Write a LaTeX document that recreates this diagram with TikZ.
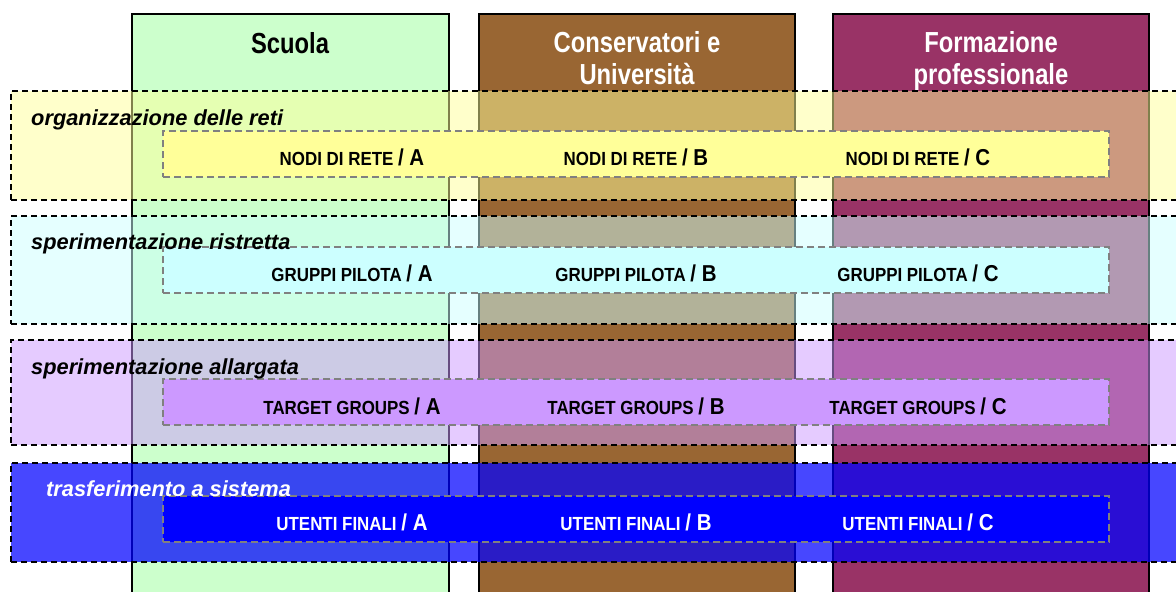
\documentclass[tikz,border=0pt]{standalone}
\usepackage{fontspec}
\setmainfont{Liberation Sans}
\newfontfamily\narrowf[FakeStretch=0.82]{Liberation Sans}
\newfontfamily\boxf[FakeStretch=0.89]{Liberation Sans}
\definecolor{scuolaC}{HTML}{CCFFCC}
\definecolor{consC}{HTML}{996633}
\definecolor{formC}{HTML}{993366}
\definecolor{yelC}{HTML}{FFFF99}
\definecolor{cyaC}{HTML}{CCFFFF}
\definecolor{purC}{HTML}{CC99FF}
\definecolor{bluC}{HTML}{0000FF}
\definecolor{dashG}{HTML}{808080}
\newcommand{\boxlbl}[2]{{\boxf\bfseries\fontsize{19}{22}\selectfont #1 \fontsize{23}{26}\selectfont/ #2}}
\begin{document}
\begin{tikzpicture}[x=1pt,y=-1pt,
  colbox/.style={draw=black, line width=1.2pt, inner sep=0pt, outer sep=0pt, anchor=north west, minimum height=620pt},
  bandbox/.style={draw=black, line width=1.4pt, dash pattern=on 6pt off 4pt, inner sep=0pt, outer sep=0pt, anchor=north west, minimum width=1179pt},
  innerbox/.style={draw=dashG, line width=1.3pt, dash pattern=on 7pt off 4pt, inner sep=0pt, outer sep=0pt, anchor=north west, minimum width=946pt, minimum height=46pt},
  headtxt/.style={font=\narrowf\bfseries\fontsize{29}{32}\selectfont, align=center, anchor=base, inner sep=0pt},
  bandlbl/.style={font=\bfseries\itshape\fontsize{21.8}{24}\selectfont, anchor=base west, inner sep=0pt},
  boxtxt/.style={anchor=base, inner sep=0pt}]
\useasboundingbox (0,0) rectangle (1176,592);
\clip (0,0) rectangle (1176,592);
\fill[white] (0,0) rectangle (1176,592);
% columns
\node[colbox, fill=scuolaC, minimum width=317pt] (colA) at (132,14) {};
\node[colbox, fill=consC, minimum width=316pt] (colB) at (479,14) {};
\node[colbox, fill=formC, minimum width=316pt] (colC) at (833,14) {};
\node[headtxt] (hA) at (290,53) {Scuola};
\node[headtxt, text=white] (hB) at (637,84) {Conservatori e\\Università};
\node[headtxt, text=white] (hC) at (991,84) {Formazione\\professionale};
% bands
\node[bandbox, fill=yelC, fill opacity=0.5, minimum height=109pt] (band1) at (11,91) {};
\node[bandbox, fill=cyaC, fill opacity=0.5, minimum height=108pt] (band2) at (11,216) {};
\node[bandbox, fill=purC, fill opacity=0.5, minimum height=105pt] (band3) at (11,340) {};
\node[bandbox, fill=bluC, fill opacity=0.72, minimum height=99pt] (band4) at (11,463) {};
% inner boxes
\node[innerbox, fill=yelC] (in1) at (163,131) {};
\node[innerbox, fill=cyaC] (in2) at (163,247) {};
\node[innerbox, fill=purC] (in3) at (163,379) {};
\node[innerbox, fill=bluC] (in4) at (163,496) {};
% band labels
\node[bandlbl] (l1) at (31,125) {organizzazione delle reti};
\node[bandlbl] (l2) at (31,249) {sperimentazione ristretta};
\node[bandlbl] (l3) at (31,374) {sperimentazione allargata};
\node[bandlbl, text=white] (l4) at (46,496) {trasferimento a sistema};
% inner texts
\node[boxtxt] (t1a) at (352,165) {\boxlbl{NODI DI RETE}{A}};
\node[boxtxt] (t1b) at (636,165) {\boxlbl{NODI DI RETE}{B}};
\node[boxtxt] (t1c) at (918,165) {\boxlbl{NODI DI RETE}{C}};
\node[boxtxt] (t2a) at (352,281) {\boxlbl{GRUPPI PILOTA}{A}};
\node[boxtxt] (t2b) at (636,281) {\boxlbl{GRUPPI PILOTA}{B}};
\node[boxtxt] (t2c) at (918,281) {\boxlbl{GRUPPI PILOTA}{C}};
\node[boxtxt] (t3a) at (352,414) {\boxlbl{TARGET GROUPS}{A}};
\node[boxtxt] (t3b) at (636,414) {\boxlbl{TARGET GROUPS}{B}};
\node[boxtxt] (t3c) at (918,414) {\boxlbl{TARGET GROUPS}{C}};
\node[boxtxt, text=white] (t4a) at (352,530) {\boxlbl{UTENTI FINALI}{A}};
\node[boxtxt, text=white] (t4b) at (636,530) {\boxlbl{UTENTI FINALI}{B}};
\node[boxtxt, text=white] (t4c) at (918,530) {\boxlbl{UTENTI FINALI}{C}};
\end{tikzpicture}
\end{document}
